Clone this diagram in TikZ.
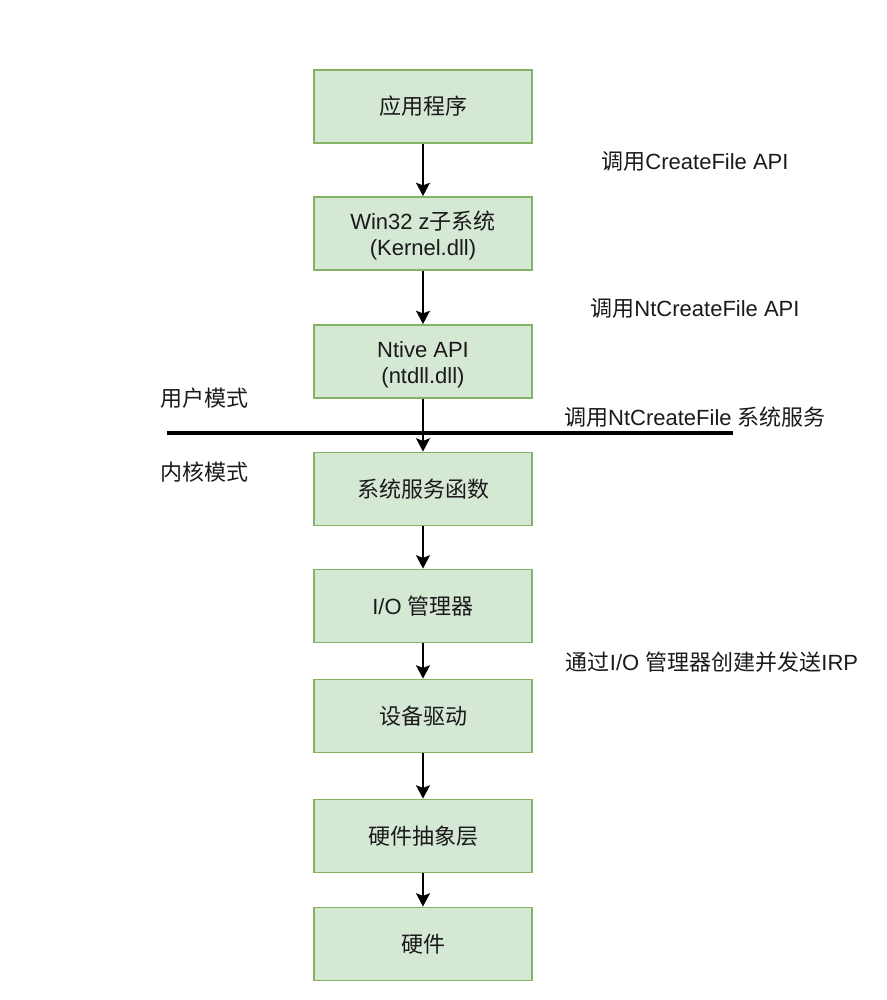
\documentclass[tikz,border=0pt]{standalone}
\usepackage{fontspec}
\setmainfont{Liberation Sans}
\newfontfamily\cjk{Noto Sans CJK SC}
\newcommand\zh[1]{{\cjk #1}}
\usetikzlibrary{arrows.meta}
\definecolor{boxfill}{HTML}{D5E8D4}
\definecolor{boxline}{HTML}{82B366}
\definecolor{txt}{HTML}{1A1A1A}
\tikzset{
  layer/.style={draw=boxline, fill=boxfill, line width=1.4pt, minimum width=164pt,
    minimum height=54.75pt, align=center, inner sep=0pt,
    font=\fontsize{16.5}{20}\selectfont, text=txt},
  note/.style={inner sep=0pt, font=\fontsize{16.5}{20}\selectfont, text=txt},
  call/.style={-{Stealth[length=10pt,width=10.5pt,inset=2pt]}, line width=1.1pt}
}
\begin{document}
\begin{tikzpicture}[x=0.75pt, y=-0.75pt]
  \useasboundingbox (0,0) rectangle (887,1000);
  % layers, top to bottom
  \node[layer] (app)  at (423,106.5) {\zh{应用程序}};
  \node[layer] (win)  at (423,233.5) {\\[-3pt]Win32 z\zh{子系统}\\(Kernel.dll)};
  \node[layer] (ntdll) at (423,361.5) {\\[-3pt]Ntive API\\(ntdll.dll)};
  \node[layer] (svc)  at (423,489) {\zh{系统服务函数}};
  \node[layer] (iom)  at (423,606) {I/O \zh{管理器}};
  \node[layer] (drv)  at (423,716) {\zh{设备驱动}};
  \node[layer] (hal)  at (423,836) {\zh{硬件抽象层}};
  \node[layer] (hw)   at (423,944) {\zh{硬件}};
  % user / kernel boundary
  \coordinate (lineL) at (167,433);
  \coordinate (lineR) at (733,433);
  \draw[line width=3pt] (lineL) -- (lineR);
  \node[note, anchor=west] (user) at (160,398) {\zh{用户模式}};
  \node[note, anchor=west] (kern) at (160,472) {\zh{内核模式}};
  % calls
  \draw[call] (app) -- (win);
  \draw[call] (win) -- (ntdll);
  \draw[call] (ntdll) -- (svc);
  \draw[call] (svc) -- (iom);
  \draw[call] (iom) -- (drv);
  \draw[call] (drv) -- (hal);
  \draw[call] (hal) -- (hw);
  % call labels
  \node[note] (l1) at (695,161) {\zh{调用}CreateFile API};
  \node[note] (l2) at (695,308) {\zh{调用}NtCreateFile API};
  \node[note] (l3) at (695,417) {\zh{调用}NtCreateFile \zh{系统服务}};
  \node[note] (l4) at (712,662) {\zh{通过}I/O \zh{管理器创建并发送}IRP};
\end{tikzpicture}
\end{document}
